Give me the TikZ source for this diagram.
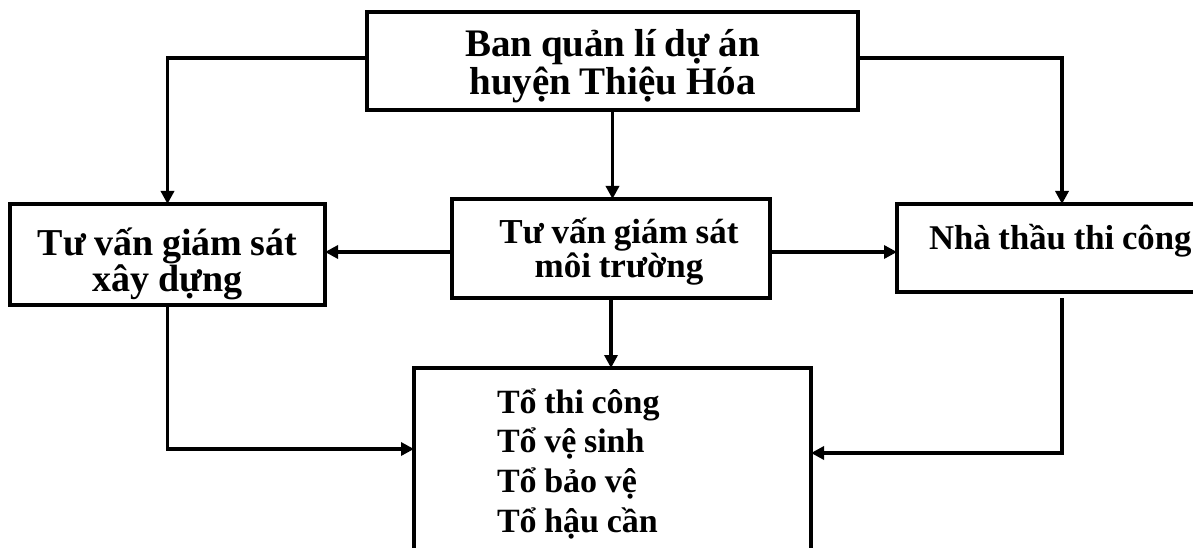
\documentclass[tikz,border=0pt]{standalone}
\usepackage{fontspec}
\setmainfont[WordSpace=0.9]{Liberation Serif}
\usetikzlibrary{arrows.meta}

\tikzset{
  box/.style={draw, line width=3.3pt, outer sep=0pt, inner sep=0pt,
    font=\bfseries, align=flush center},
  link/.style={line width=3.3pt, line cap=rect},
  arr/.style={link, -{Triangle[length=13pt,width=13pt]}},
}

\begin{document}
\begin{tikzpicture}[x=1pt, y=-1pt]
  \useasboundingbox (0,0) rectangle (1193,548);

  % boxes (text width = box width, first baseline set by text height/depth)
  \node[box, text width=491pt, minimum height=98pt,
        text height=30pt, text depth=38pt,
        font=\bfseries\fontsize{39}{38}\selectfont] (ban) at (612.5,61)
        {Ban quản lí dự án\\huyện Thiệu Hóa};
  \node[box, text width=315pt, minimum height=101pt,
        text height=30pt, text depth=29pt,
        font=\bfseries\fontsize{38}{32}\selectfont] (tvxd) at (167.5,254.5)
        {Tư vấn giám sát\\xây dựng};
  \node[box, text width=318pt, minimum height=99pt,
        text height=30pt, text depth=41pt,
        font=\bfseries\fontsize{35}{34}\selectfont] (tvmt) at (611,248.5)
        {\hspace*{16pt}Tư vấn giám sát\\\hspace*{16pt}môi trường};
  \node[box, anchor=north west, minimum height=88pt, text width=300pt,
        inner xsep=32pt, align=flush left, text height=20pt, text depth=18pt,
        font=\bfseries\fontsize{34.7}{35}\selectfont] (ntc) at (897,204)
        {Nhà thầu thi công};
  \node[box, minimum height=184pt, text width=231pt, inner xsep=83pt,
        align=flush left, text height=30pt, text depth=124pt,
        font=\bfseries\fontsize{34}{39.7}\selectfont] (to) at (612.5,460)
        {Tổ thi công\\Tổ vệ sinh\\Tổ bảo vệ\\Tổ hậu cần};

  % connectors
  \draw[arr] ([yshift=3pt]ban.west) -| (tvxd.north);
  \draw[arr] ([yshift=3pt]ban.east) -| ([xshift=165pt]ntc.north west);
  \draw[arr] (ban.south) -- (ban.south |- tvmt.north);
  \draw[arr] ([yshift=-3.5pt]tvmt.west) -- ([yshift=-3.5pt]tvmt.west -| tvxd.east);
  \draw[arr] ([yshift=-3.5pt]tvmt.east) -- ([yshift=-3.5pt]tvmt.east -| ntc.west);
  \draw[arr] (tvmt.south) -- (tvmt.south |- to.north);
  \draw[arr] (tvxd.south) |- ([yshift=11pt]to.west);
  \coordinate (ntcfoot) at ([xshift=165pt,yshift=-8pt]ntc.south west);
  \draw[arr] (ntcfoot) |- ([yshift=7pt]to.east);
\end{tikzpicture}
\end{document}
